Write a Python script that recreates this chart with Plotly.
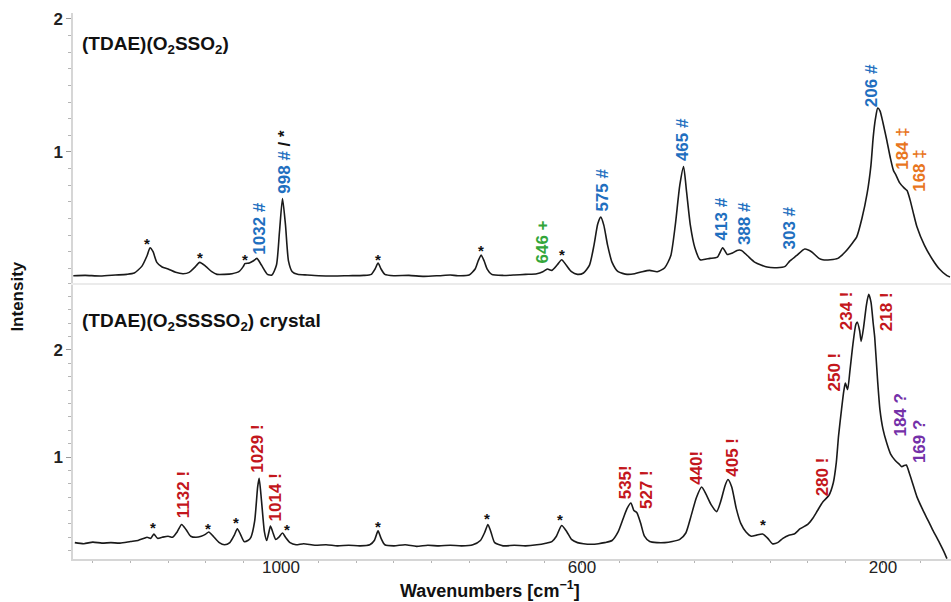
import plotly.graph_objects as go

# ---------------- data ----------------
# Top spectrum: (TDAE)(O2SSO2)
top_wn = [1276, 1260, 1240, 1220, 1205, 1195, 1185, 1178, 1174, 1170, 1165, 1158, 1150, 1140,
          1130, 1122, 1115, 1108, 1100, 1092, 1085, 1075, 1065, 1056, 1050, 1048, 1042, 1037,
          1032, 1026, 1018, 1012, 1006, 1002, 998, 994, 990, 985, 978, 965, 950, 930, 910, 890,
          880, 875, 871, 867, 862, 850, 830, 810, 790, 775, 765, 750, 742, 738, 734, 730, 726,
          720, 705, 690, 675, 660, 652, 646, 640, 633, 627, 621, 614, 606, 598, 590, 584, 579,
          575, 571, 566, 560, 552, 540, 530, 520, 510, 500, 490, 482, 476, 470, 465, 461, 456,
          450, 443, 430, 420, 413, 407, 400, 394, 388, 380, 370, 354, 341, 330, 324, 315, 304,
          295, 285, 280, 270, 260, 250, 240, 235, 228, 221, 216, 213, 210, 207, 204, 200, 195,
          190, 186, 183, 178, 172, 168, 164, 160, 155, 145, 134, 125, 115, 111]
top_int = [0.07, 0.072, 0.068, 0.075, 0.08, 0.09, 0.14, 0.22, 0.28, 0.25, 0.17, 0.135, 0.12, 0.095,
           0.085, 0.095, 0.13, 0.17, 0.14, 0.10, 0.08, 0.08, 0.085, 0.10, 0.14, 0.16, 0.165, 0.18,
           0.20, 0.15, 0.08, 0.075, 0.15, 0.40, 0.65, 0.45, 0.18, 0.10, 0.08, 0.075, 0.07, 0.068, 0.07, 0.072,
           0.08, 0.12, 0.165, 0.12, 0.08, 0.07, 0.072, 0.065, 0.07, 0.075, 0.07, 0.075, 0.12, 0.18, 0.225, 0.18, 0.12,
           0.08, 0.072, 0.075, 0.08, 0.085, 0.10, 0.12, 0.11, 0.15, 0.19, 0.15, 0.10, 0.08, 0.09, 0.15, 0.30, 0.46,
           0.51, 0.45, 0.30, 0.17, 0.10, 0.08, 0.085, 0.10, 0.11, 0.10, 0.13, 0.22, 0.45, 0.75, 0.89, 0.70, 0.45,
           0.28, 0.19, 0.20, 0.21, 0.28, 0.23, 0.24, 0.26, 0.26, 0.22, 0.17, 0.135, 0.13, 0.14, 0.18, 0.22, 0.27,
           0.25, 0.20, 0.19, 0.19, 0.20, 0.25, 0.32, 0.36, 0.50, 0.69, 0.90, 1.11, 1.25, 1.33, 1.31, 1.22, 1.09,
           0.95, 0.86, 0.83, 0.77, 0.73, 0.71, 0.64, 0.55, 0.44, 0.30, 0.19, 0.12, 0.07, 0.06]

# Bottom spectrum: (TDAE)(O2SSSSO2) crystal
bot_wn = [1274, 1262, 1250, 1238, 1226, 1214, 1200, 1190, 1182, 1178, 1173, 1169, 1164, 1158, 1150,
          1144, 1138, 1132, 1126, 1120, 1113, 1106, 1100, 1096, 1090, 1082, 1075, 1068, 1062, 1058,
          1054, 1049, 1044, 1040, 1035, 1031, 1029, 1026, 1022, 1019, 1016, 1014, 1011, 1007, 1003,
          998, 994, 988, 980, 970, 955, 940, 925, 910, 895, 882, 876, 871, 867, 862, 850, 835, 820,
          805, 790, 775, 760, 745, 735, 729, 725, 721, 716, 705, 690, 675, 660, 648, 640, 634, 627,
          620, 614, 606, 598, 588, 578, 570, 560, 552, 545, 540, 535, 531, 527, 522, 517, 510, 500,
          490, 480, 470, 462, 455, 448, 441, 435, 428, 421, 415, 410, 406, 401, 395, 389, 382, 375,
          368, 360, 353, 347, 340, 333, 325, 318, 310, 300, 293, 287, 280, 272, 266, 262, 259, 255,
          252, 250, 247, 244, 240, 236, 234, 231, 229, 226, 222, 219, 216, 213, 211, 207, 204, 200,
          195, 190, 184, 178, 175, 172, 169, 165, 160, 155, 148, 141, 134, 125, 118, 115]
bot_int = [0.20, 0.19, 0.205, 0.195, 0.20, 0.195, 0.21, 0.22, 0.24, 0.25, 0.24, 0.28, 0.24, 0.25, 0.26,
           0.25, 0.30, 0.37, 0.32, 0.26, 0.25, 0.26, 0.28, 0.30, 0.26, 0.20, 0.18, 0.20, 0.27, 0.33,
           0.28, 0.21, 0.22, 0.25, 0.40, 0.72, 0.80, 0.60, 0.30, 0.22, 0.30, 0.355, 0.30, 0.23, 0.25,
           0.29, 0.25, 0.20, 0.18, 0.19, 0.175, 0.18, 0.17, 0.175, 0.17, 0.18, 0.22, 0.31, 0.24, 0.18, 0.17, 0.18, 0.165,
           0.175, 0.17, 0.175, 0.17, 0.18, 0.22, 0.30, 0.37, 0.30, 0.20, 0.17, 0.175, 0.17, 0.18, 0.195, 0.21, 0.26, 0.36,
           0.30, 0.23, 0.20, 0.19, 0.185, 0.19, 0.20, 0.22, 0.30, 0.43, 0.52, 0.57, 0.50, 0.48, 0.38, 0.26, 0.21, 0.20,
           0.20, 0.21, 0.23, 0.29, 0.45, 0.62, 0.72, 0.65, 0.55, 0.49, 0.60, 0.73, 0.79, 0.72, 0.52, 0.38, 0.30, 0.26,
           0.27, 0.28, 0.24, 0.19, 0.20, 0.24, 0.27, 0.28, 0.33, 0.37, 0.43, 0.50, 0.58, 0.64, 0.76, 0.95, 1.20, 1.45,
           1.62, 1.69, 1.63, 1.80, 2.05, 2.24, 2.26, 2.18, 2.08, 2.20, 2.42, 2.52, 2.45, 2.25, 2.12, 1.70, 1.44, 1.26,
           1.13, 1.03, 0.97, 0.93, 0.91, 0.92, 0.925, 0.85, 0.74, 0.63, 0.52, 0.42, 0.32, 0.20, 0.10, 0.05]

# Peak labels (text, wavenumber, intensity, colour key)
top_labels = ["1032 #", "998 # / *", "646 +", "575 #", "465 #", "413 #", "388 #", "303 #", "206 #", "184 ‡", "168 ‡"]
top_label_wn = [1028, 995, 653, 572, 467, 414, 383, 324, 215, 175, 151]
top_label_y = [0.43, 0.925, 0.32, 0.71, 1.09, 0.50, 0.46, 0.43, 1.50, 1.03, 0.865]
top_label_col = ["blue", "mixed", "green", "blue", "blue", "blue", "blue", "blue", "blue", "orange", "orange"]
top_star_wn = [1178, 1108, 1048, 871, 734, 627]
top_star_y = [0.34, 0.24, 0.22, 0.22, 0.29, 0.26]

bot_labels = ["1132 !", "1029 !", "1014 !", "535!", "527 !", "440!", "405 !", "280 !", "250 !", "234 !", "218 !", "184 ?", "169 ?"]
bot_label_wn = [1130, 1031, 1007, 542, 515, 447, 401, 281, 265, 248, 195, 177, 152]
bot_label_y = [0.645, 1.075, 0.62, 0.76, 0.70, 0.90, 1.00, 0.81, 1.79, 2.37, 2.36, 1.39, 1.14]
bot_label_col = ["red"] * 11 + ["purple"] * 2
bot_star_wn = [1170, 1097, 1060, 992, 871, 726, 629, 359]
bot_star_y = [0.38, 0.37, 0.43, 0.36, 0.39, 0.46, 0.45, 0.41]

x_tickvals = [1000, 600, 200]
x_ticktext = ["1000", "600", "200"]
y_tickvals = [1, 2]
y_ticktext = ["<b>1</b>", "<b>2</b>"]

# ---------------- styling ----------------
FONT = "Liberation Sans, Arial, sans-serif"
COLORS = {"blue": "#1f6fbf", "green": "#33a63a", "orange": "#e8761e",
          "red": "#c3161c", "purple": "#7430a8"}
AXIS_GRAY = "#d6d6d6"
TICK_GRAY = "#9a9a9a"

fig = go.Figure()
fig.add_trace(go.Scatter(x=top_wn, y=top_int, mode="lines", xaxis="x2", yaxis="y2",
                         line=dict(color="#1a1a1a", width=1.6, shape="spline", smoothing=0.6),
                         showlegend=False, hoverinfo="skip"))
fig.add_trace(go.Scatter(x=bot_wn, y=bot_int, mode="lines", xaxis="x", yaxis="y",
                         line=dict(color="#1a1a1a", width=1.6, shape="spline", smoothing=0.6),
                         showlegend=False, hoverinfo="skip"))

annotations = []
lab_font = dict(family=FONT, size=17)
for txt, wn, yv, ck in zip(top_labels, top_label_wn, top_label_y, top_label_col):
    if ck == "mixed":
        t = '<b><span style="color:%s">998 #</span> / *</b>' % COLORS["blue"]
        col = "#111111"
    else:
        t = "<b>%s</b>" % txt
        col = COLORS[ck]
    annotations.append(dict(x=wn, y=yv, xref="x2", yref="y2", text=t, textangle=-90,
                            showarrow=False, font=dict(color=col, **lab_font)))
for txt, wn, yv, ck in zip(bot_labels, bot_label_wn, bot_label_y, bot_label_col):
    annotations.append(dict(x=wn, y=yv, xref="x", yref="y", text="<b>%s</b>" % txt, textangle=-90,
                            showarrow=False, font=dict(color=COLORS[ck], **lab_font)))
for wn, yv in zip(top_star_wn, top_star_y):
    annotations.append(dict(x=wn, y=yv, xref="x2", yref="y2", text="<b>*</b>", showarrow=False,
                            yshift=-4, font=dict(family=FONT, size=15, color="#111111")))
for wn, yv in zip(bot_star_wn, bot_star_y):
    annotations.append(dict(x=wn, y=yv, xref="x", yref="y", text="<b>*</b>", showarrow=False,
                            yshift=-4, font=dict(family=FONT, size=15, color="#111111")))

# Panel titles and axis titles
annotations.append(dict(x=0.008, y=0.942, xref="paper", yref="paper", xanchor="left", yanchor="middle",
                        text="<b>(TDAE)(O<sub>2</sub>SSO<sub>2</sub>)</b>", showarrow=False,
                        font=dict(family=FONT, size=19, color="#111111")))
annotations.append(dict(x=0.008, y=0.434, xref="paper", yref="paper", xanchor="left", yanchor="middle",
                        text="<b>(TDAE)(O<sub>2</sub>SSSSO<sub>2</sub>) crystal</b>", showarrow=False,
                        font=dict(family=FONT, size=19, color="#111111")))
annotations.append(dict(x=0.475, y=-0.055, xref="paper", yref="paper", xanchor="center", yanchor="middle",
                        text="<b>Wavenumbers [cm<sup>−1</sup>]</b>", showarrow=False,
                        font=dict(family=FONT, size=18, color="#111111")))
annotations.append(dict(x=-0.063, y=0.48, xref="paper", yref="paper", xanchor="center", yanchor="middle",
                        text="<b>Intensity</b>", textangle=-90, showarrow=False,
                        font=dict(family=FONT, size=17, color="#111111")))

xrange = [1276.4, 109.6]
common_y = dict(showline=True, linecolor=AXIS_GRAY, linewidth=1.5, ticks="outside", ticklen=5,
                tickcolor=TICK_GRAY, tickwidth=1, tickvals=y_tickvals, ticktext=y_ticktext,
                tickfont=dict(family=FONT, size=17, color="#222222"), showgrid=False, zeroline=False,
                minor=dict(dtick=0.125, ticks="outside", ticklen=3, tickcolor="#b5b5b5", showgrid=False))

fig.update_layout(
    width=951, height=602,
    margin=dict(l=73, r=0, t=13, b=43),
    paper_bgcolor="white", plot_bgcolor="white",
    showlegend=False,
    xaxis=dict(range=xrange, anchor="y", showline=True, linecolor=AXIS_GRAY, linewidth=1.5,
               ticks="outside", ticklen=4, tickcolor=TICK_GRAY, tickvals=x_tickvals, ticktext=x_ticktext,
               ticklabelstandoff=-12,
               tickfont=dict(family=FONT, size=17, color="#222222"), showgrid=False, zeroline=False,
               minor=dict(dtick=50, ticks="outside", ticklen=2, tickcolor="#b5b5b5", showgrid=False)),
    xaxis2=dict(range=xrange, anchor="y2", matches="x", showline=True, linecolor="#ebebeb", linewidth=2,
                showticklabels=False, ticks="", showgrid=False, zeroline=False),
    yaxis=dict(domain=[0, 0.5055], range=[0.047, 2.626], anchor="x", **common_y),
    yaxis2=dict(domain=[0.5055, 1], range=[0.015, 2.045], anchor="x2", **common_y),
    annotations=annotations,
)

fig.write_html("out.html")
